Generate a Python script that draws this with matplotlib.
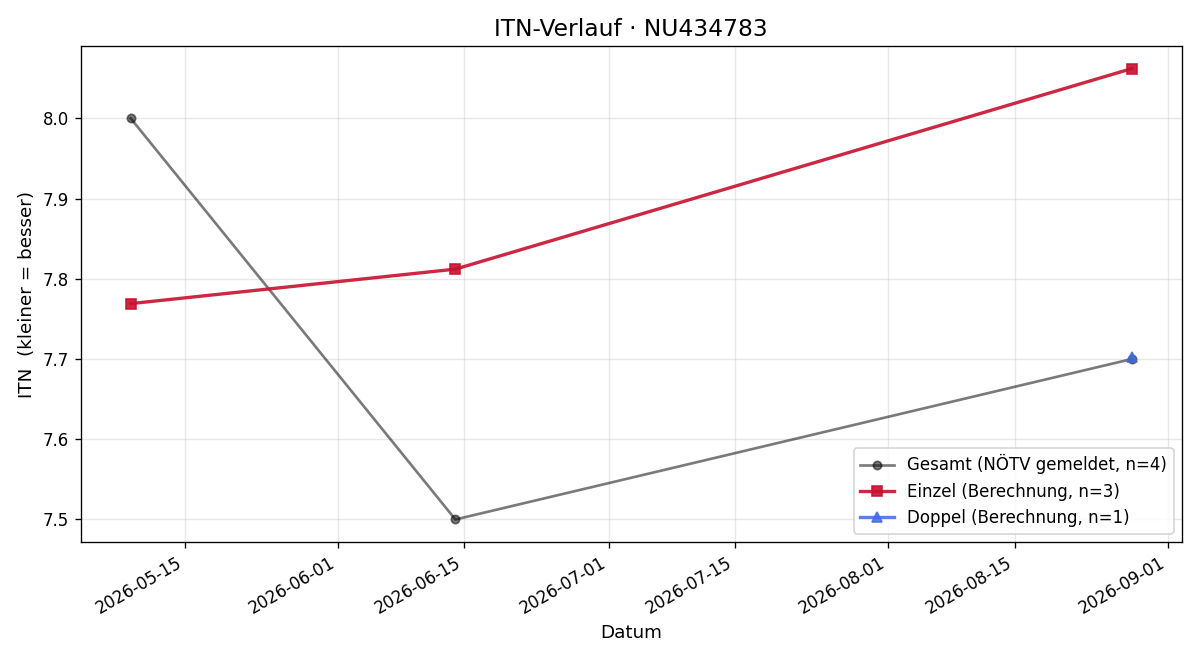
import numpy as np
import pandas as pd
from matplotlib import pyplot as plt

# Werte
gesamt_dates = pd.to_datetime(["2026-05-09", "2026-06-14", "2026-08-28"])
gesamt_itn = [8.0, 7.5, 7.7]

einzel_dates = pd.to_datetime(["2026-05-09", "2026-06-14", "2026-08-28"])
einzel_itn = [7.769, 7.812, 8.062]

doppel_dates = pd.to_datetime(["2026-08-28"])
doppel_itn = [7.703]

fig, ax = plt.subplots(figsize=(10, 5.5), dpi=120)

ax.plot(gesamt_dates, gesamt_itn, marker="o", color="black", alpha=0.52,
        linewidth=1.6, markersize=5, label="Gesamt (NÖTV gemeldet, n=4)")
ax.plot(einzel_dates, einzel_itn, marker="s", color="#c8102e", alpha=0.9,
        linewidth=2, markersize=6, label="Einzel (Berechnung, n=3)")
ax.plot(doppel_dates, doppel_itn, marker="^", color="royalblue", alpha=0.85,
        linewidth=2, markersize=6, label="Doppel (Berechnung, n=1)")

ax.set_title("ITN-Verlauf · NU434783", fontsize=14)
ax.set_xlabel("Datum", fontsize=11)
ax.set_ylabel("ITN  (kleiner = besser)", fontsize=11)
ax.grid(True, alpha=0.3)
ax.legend(loc="lower right", fontsize=10)
fig.autofmt_xdate()

fig.tight_layout()
fig.savefig("out.png")
